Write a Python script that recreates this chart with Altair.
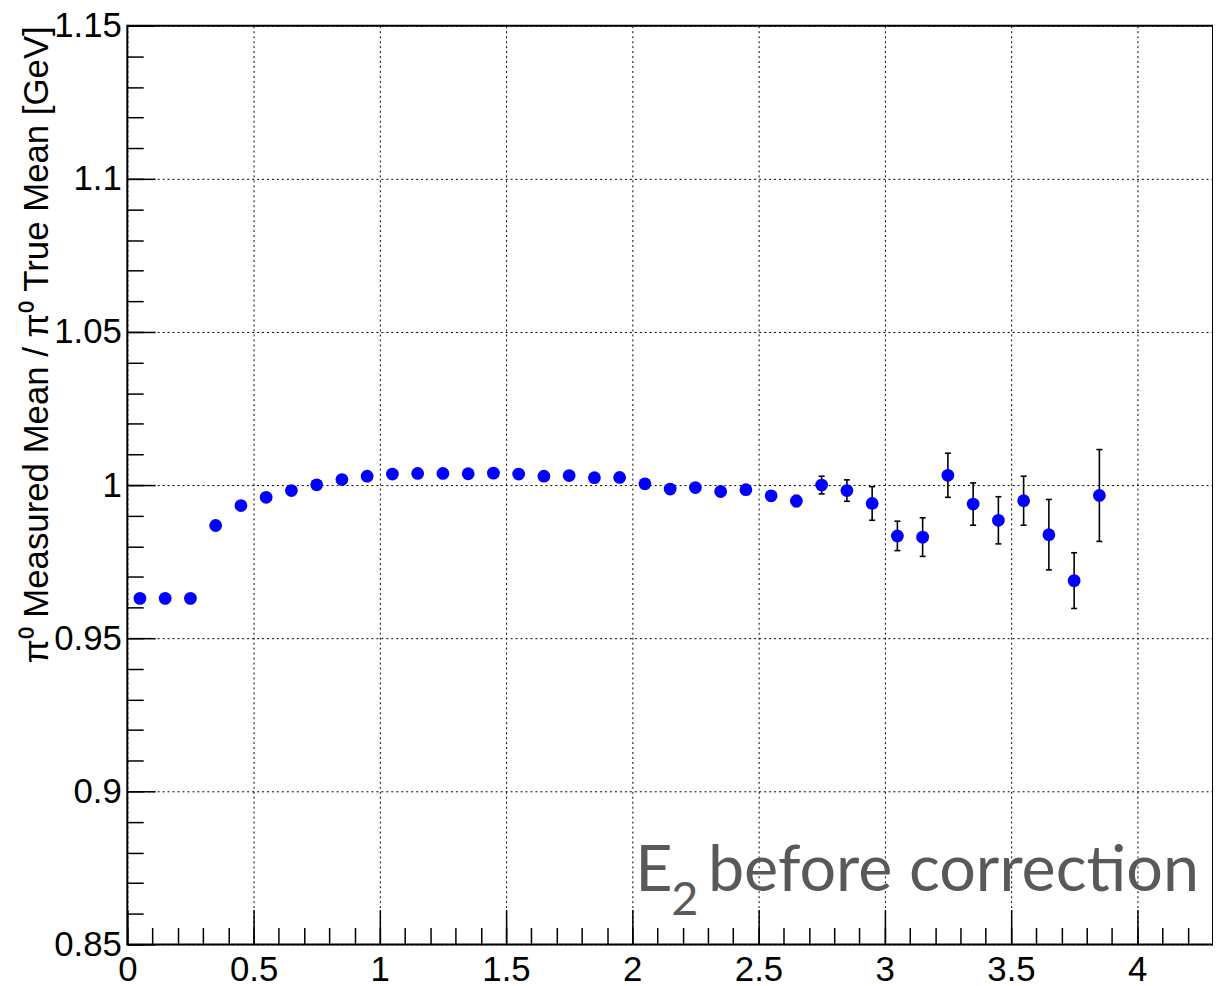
import altair as alt
import pandas as pd

# ---- data ----
x_centers = [0.05, 0.15, 0.25, 0.35, 0.45, 0.55, 0.65, 0.75, 0.85, 0.95,
             1.05, 1.15, 1.25, 1.35, 1.45, 1.55, 1.65, 1.75, 1.85, 1.95,
             2.05, 2.15, 2.25, 2.35, 2.45, 2.55, 2.65, 2.75, 2.85, 2.95,
             3.05, 3.15, 3.25, 3.35, 3.45, 3.55, 3.65, 3.75, 3.85]
ratio = [0.9630, 0.9630, 0.9630, 0.9868, 0.9933, 0.9960, 0.9982, 1.0001, 1.0018, 1.0029,
         1.0036, 1.0038, 1.0038, 1.0037, 1.0039, 1.0036, 1.0029, 1.0031, 1.0024, 1.0025,
         1.0004, 0.9987, 0.9992, 0.9979, 0.9985, 0.9965, 0.9948, 1.0000, 0.9982, 0.9940,
         0.9834, 0.9830, 1.0032, 0.9938, 0.9885, 0.9949, 0.9838, 0.9688, 0.9966]
ratio_err = [0.0002, 0.0002, 0.0003, 0.0003, 0.0003, 0.0003, 0.0003, 0.0004, 0.0004, 0.0004,
             0.0004, 0.0005, 0.0005, 0.0005, 0.0006, 0.0006, 0.0007, 0.0007, 0.0008, 0.0009,
             0.0009, 0.0010, 0.0011, 0.0012, 0.0013, 0.0015, 0.0018, 0.0029, 0.0035, 0.0055,
             0.0048, 0.0063, 0.0072, 0.0069, 0.0077, 0.0080, 0.0115, 0.0091, 0.0150]

x_major_ticks = [0, 0.5, 1, 1.5, 2, 2.5, 3, 3.5, 4]
x_minor_ticks = [round(0.1 * i, 1) for i in range(44)]
y_major_ticks = [0.85, 0.9, 0.95, 1.0, 1.05, 1.1, 1.15]
y_minor_ticks = [round(0.85 + 0.01 * i, 2) for i in range(31)]

x_domain = [0, 4.3]
y_domain = [0.85, 1.15]

y_title = "π⁰ Measured Mean / π⁰ True Mean [GeV]"
annot_parts = ["E", "2", "before correction"]

df = pd.DataFrame({
    "x": x_centers,
    "y": ratio,
    "lo": [r - e for r, e in zip(ratio, ratio_err)],
    "hi": [r + e for r, e in zip(ratio, ratio_err)],
})

W, H = 1092, 924
FONT = "Liberation Sans"
xs = alt.Scale(domain=x_domain, nice=False, zero=False)
ys = alt.Scale(domain=y_domain, nice=False, zero=False)

# grid-only axes
grid_x = alt.Axis(values=x_major_ticks, orient="bottom", grid=True, gridDash=[2, 3],
                  gridColor="black", gridWidth=1, gridOpacity=1, ticks=False,
                  labels=False, domain=False)
grid_y = alt.Axis(values=y_major_ticks, orient="left", grid=True, gridDash=[2, 3],
                  gridColor="black", gridWidth=1, gridOpacity=1, ticks=False,
                  labels=False, domain=False)

# minor tick axes (drawn inward)
minor_x = alt.Axis(values=x_minor_ticks, orient="bottom", grid=False, ticks=True,
                   tickSize=17, tickColor="black", tickWidth=1.5, labels=False,
                   domain=False, offset=-17)
minor_y = alt.Axis(values=y_minor_ticks, orient="left", grid=False, ticks=True,
                   tickSize=16, tickColor="black", tickWidth=1.5, labels=False,
                   domain=False, offset=-16)

# major tick axes with labels
major_x = alt.Axis(values=x_major_ticks, orient="bottom", grid=False, ticks=True,
                   tickSize=35, tickColor="black", tickWidth=1.5, domain=False,
                   offset=-35, format="~g", labelFont=FONT, labelFontSize=35,
                   labelColor="black", labelPadding=8, labelOverlap=False,
                   labelBound=False, labelFlush=False)
major_y = alt.Axis(values=y_major_ticks, orient="left", grid=False, ticks=True,
                   tickSize=28, tickColor="black", tickWidth=1.5, domain=False,
                   offset=-28, format="~g", labelFont=FONT, labelFontSize=35,
                   labelColor="black", labelPadding=6, labelOverlap=False,
                   labelBound=False, labelFlush=False, labelBaseline="middle",
                   title=y_title, titleFont=FONT, titleFontSize=35,
                   titleFontWeight="normal", titleColor="black",
                   titleAngle=270, titleAlign="right", titleBaseline="middle",
                   titleX=-119, titleY=0)

base = alt.Chart(df)

grid_layer = base.mark_point(opacity=0).encode(
    x=alt.X("x:Q", scale=xs, axis=grid_x, title=None),
    y=alt.Y("y:Q", scale=ys, axis=grid_y, title=None),
)
minor_layer = base.mark_point(opacity=0).encode(
    x=alt.X("x:Q", scale=xs, axis=minor_x, title=None),
    y=alt.Y("y:Q", scale=ys, axis=minor_y, title=None),
)
major_layer = base.mark_point(opacity=0).encode(
    x=alt.X("x:Q", scale=xs, axis=major_x, title=None),
    y=alt.Y("y:Q", scale=ys, axis=major_y),
)

err_rule = base.mark_rule(color="black", strokeWidth=1.6).encode(
    x=alt.X("x:Q", scale=xs, axis=None),
    y=alt.Y("lo:Q", scale=ys, axis=None),
    y2="hi:Q",
)
cap_lo = base.mark_tick(orient="horizontal", size=6, thickness=1.6, color="black", opacity=1).encode(
    x=alt.X("x:Q", scale=xs, axis=None),
    y=alt.Y("lo:Q", scale=ys, axis=None),
)
cap_hi = base.mark_tick(orient="horizontal", size=6, thickness=1.6, color="black", opacity=1).encode(
    x=alt.X("x:Q", scale=xs, axis=None),
    y=alt.Y("hi:Q", scale=ys, axis=None),
)
points = base.mark_circle(size=165, color="#0000ff", opacity=1).encode(
    x=alt.X("x:Q", scale=xs, axis=None),
    y=alt.Y("y:Q", scale=ys, axis=None),
)

ANN_COLOR = "#595959"
ANN_FONT = "Lato"
t_e = alt.Chart(pd.DataFrame({"t": [annot_parts[0]]})).mark_text(
    font=ANN_FONT, fontSize=65, color=ANN_COLOR, align="left", baseline="alphabetic"
).encode(text="t:N", x=alt.value(511), y=alt.value(870))
t_sub = alt.Chart(pd.DataFrame({"t": [annot_parts[1]]})).mark_text(
    font=ANN_FONT, fontSize=47, color=ANN_COLOR, align="left", baseline="alphabetic"
).encode(text="t:N", x=alt.value(547), y=alt.value(894))
t_rest = alt.Chart(pd.DataFrame({"t": [annot_parts[2]]})).mark_text(
    font=ANN_FONT, fontSize=65, color=ANN_COLOR, align="left", baseline="alphabetic"
).encode(text="t:N", x=alt.value(584), y=alt.value(870))

chart = alt.layer(
    grid_layer, minor_layer, major_layer,
    err_rule, cap_lo, cap_hi, points,
    t_e, t_sub, t_rest,
).resolve_axis(
    x="independent", y="independent"
).properties(
    width=W, height=H,
    padding={"left": 120, "top": 15, "right": 0, "bottom": 40},
    autosize=alt.AutoSizeParams(type="none"),
    background="white",
).configure_view(
    stroke="black", strokeWidth=2
)

chart.save("out.html", embed_options={"renderer": "svg", "actions": False})
